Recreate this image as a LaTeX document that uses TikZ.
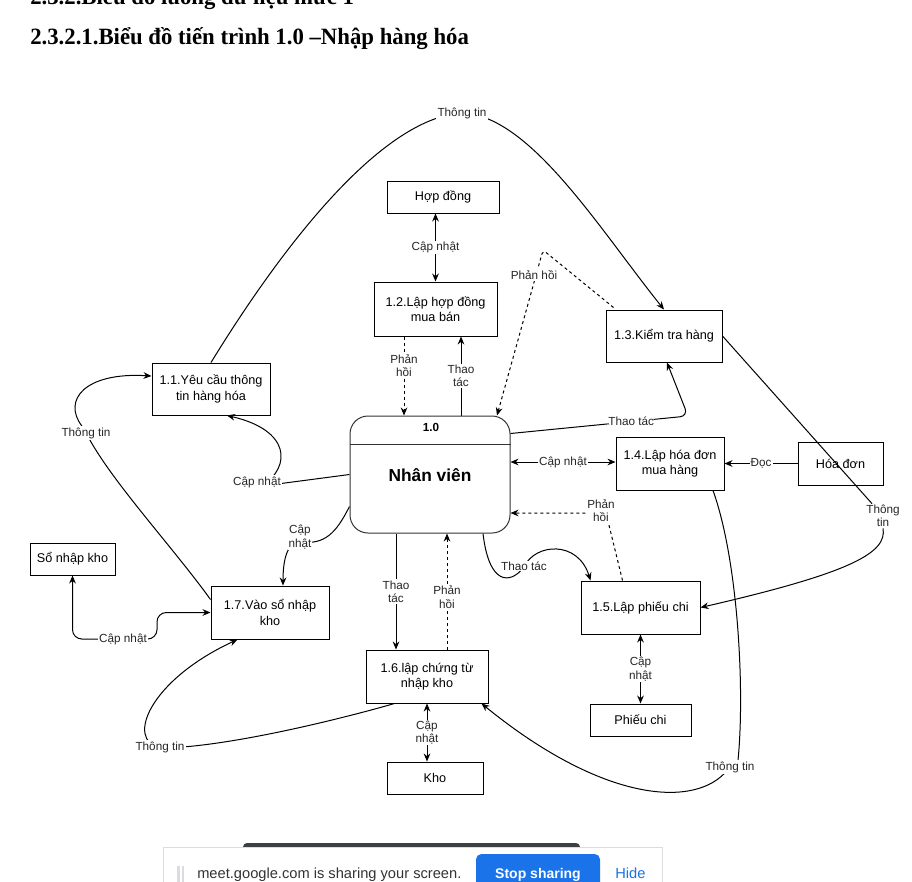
\documentclass[tikz,border=0pt]{standalone}
\usepackage{fontspec}
\setmainfont{Liberation Sans}
\newfontfamily\titleserif{Liberation Serif}
\usetikzlibrary{arrows.meta,calc,backgrounds}
\definecolor{gblue}{HTML}{1A73E8}
\definecolor{gdark}{HTML}{3C4043}
\definecolor{ggrey}{HTML}{DADCE0}
\begin{document}
\begin{tikzpicture}[x=0.75pt,y=-0.75pt,
  >={Stealth[length=6pt,width=5pt]},
  box/.style={draw,line width=0.75pt,align=center,inner sep=0pt,font=\fontsize{9.5}{11.5}\selectfont},
  sz/.style 2 args={minimum width=#1*0.75pt,minimum height=#2*0.75pt},
  lbl/.style={fill=white,inner sep=0.8pt,align=center,text=black!85,font=\fontsize{8.8}{10}\selectfont},
  ln/.style={line width=0.75pt},
  arr/.style={ln,->},
  arr2/.style={ln,<->},
  dsh/.style={dash pattern=on 2.25pt off 2.25pt},
  ttl/.style={anchor=base west,inner sep=0pt,font=\titleserif\bfseries\fontsize{17.5}{20}\selectfont}
]
\useasboundingbox (0,0) rectangle (912,881);
\begin{scope}
\clip (0,0) rectangle (912,881);
% headings
\node[ttl] (h0) at (30,5) {\scalebox{0.975}[1]{2.3.2.Biểu đồ luồng dữ liệu mức 1}};
\node[ttl] (h1) at (30,45) {\scalebox{0.975}[1]{2.3.2.1.Biểu đồ tiến trình 1.0 –Nhập hàng hóa}};

% process and store boxes
\node[box,sz={112}{32}] (hop) at (443,197) {Hợp đồng};
\node[box,sz={123}{54}] (n12) at (435.5,309) {1.2.Lập hợp đồng\\mua bán};
\node[box,sz={116}{52}] (n13) at (664,336) {1.3.Kiểm tra hàng};
\node[box,sz={118}{52}] (n11) at (211,389) {1.1.Yêu cầu thông\\tin hàng hóa};
\node[box,sz={160}{117},rounded corners=13.5pt,draw=black!80] (n10) at (430,474.5) {};
\draw[ln,black!80] ($(n10.north west)+(0,29)$) coordinate (dv1) -- ($(n10.north east)+(0,29)$) coordinate (dv2);
\node[font=\bfseries\fontsize{8.8}{10}\selectfont] (t10) at (431,427.5) {1.0};
\node[font=\bfseries\fontsize{13}{15}\selectfont] (t10b) at (430,475) {Nhân viên};
\node[box,sz={108}{53}] (n14) at (670,463.5) {1.4.Lập hóa đơn\\mua hàng};
\node[box,sz={85}{43}] (hd) at (840.5,463.5) {Hóa đơn};
\node[box,sz={85}{32}] (so) at (72.5,559) {Sổ nhập kho};
\node[box,sz={118}{53}] (n17) at (270,612.5) {1.7.Vào sổ nhập\\kho};
\node[box,sz={119}{53}] (n15) at (640.5,607.5) {1.5.Lập phiếu chi};
\node[box,sz={122}{53}] (n16) at (427,676.5) {1.6.lập chứng từ\\nhập kho};
\node[box,sz={101}{32}] (pc) at (640.5,720) {Phiếu chi};
\node[box,sz={96}{32}] (kho) at (435,778) {Kho};

% free-standing labels
\node[lbl] (l10) at (462,113) {Thông tin};
\node[lbl] (lph) at (534,275) {Phản hồi};
\node[lbl] (lph2) at (601,511) {Phản\\hồi};
\node[lbl] (l3) at (883,516) {Thông\\tin};
\node[lbl] (l4) at (730,767) {Thông tin};
\node[lbl] (lt5) at (524,566) {Thao tác};
\node[lbl] (l6) at (257,482) {Cập nhật};
\node[lbl] (l7c) at (300,537) {Cập\\nhật};
\node[lbl] (l7) at (86,433) {Thông tin};
\node[lbl] (l8) at (123,639) {Cập nhật};
\node[lbl] (l9) at (160,747) {Thông tin};

% helper points
\coordinate (pk) at (543,250);
\coordinate (pk2) at (606,513);
\coordinate (k3) at (688,416);
\coordinate (c5) at (524,567);
\coordinate (c6) at (262,486);
\coordinate (c7) at (300,542);
\coordinate (c8) at (157,639);
\coordinate (c9) at (160,748);
\coordinate (p1) at ($(n12.south)+(-31.5,0)$);
\coordinate (p2) at ($(n10.north)+(31,0)$);
\coordinate (p6) at ($(n16.north)+(-31,0)$);
\coordinate (p7) at ($(n16.north)+(20,0)$);

\begin{scope}[on background layer]
\fill[white] (0,0) rectangle (912,881);
% Hop dong <-> 1.2
\draw[arr2] (n12.north) -- (n12.north |- hop.south) node[lbl,midway]{Cập nhật};
% 1.2 -> 1.0 (dashed) and 1.0 -> 1.2
\draw[arr,dsh] (p1) -- (p1 |- n10.north) node[lbl,pos=0.37]{Phản\\hồi};
\draw[arr] (p2) -- (p2 |- n12.south) node[lbl,pos=0.5]{Thao\\tác};
% 1.1 -> 1.3 Thong tin
\draw[arr] (n11.north) .. controls (280,250) and (380,118) .. (l10.center)
  .. controls (530,115) and (600,230) .. (n13.north);
% 1.3 -> 1.0 dashed
\draw[arr,dsh,rounded corners=3pt] ($(n13.north west)+(8,-2)$) -- (pk) -- ($(n10.north)+(67,0)$);
% 1.0 -> 1.3 Thao tac
\draw[arr,rounded corners=6pt] ($(n10.east)+(0,-41)$) -- node[lbl,pos=0.68]{Thao tác} (k3) -- ($(n13.south)+(3,0)$);
% 1.0 <-> 1.4
\draw[arr2] ($(n14.west)+(0,-1.5)$) coordinate (p3) -- (p3 -| n10.east) node[lbl,midway]{Cập nhật};
% Hoa don -> 1.4
\draw[arr] (hd.west) -- (hd.west -| n14.east) node[lbl,midway]{Đọc};
% 1.5 -> 1.0 dashed
\draw[arr,dsh] ($(n15.north)+(-18,0)$) -- (pk2) -- (pk2 -| n10.east);
% 1.3 -> 1.5 Thong tin
\draw[ln] (n13.east) -- (l3);
\draw[arr] (l3.south) .. controls (887,552) and (855,572) .. (n15.east);
% 1.4 -> 1.6 Thong tin
\draw[ln] ($(n14.south)+(43,0)$) .. controls (738,560) and (745,690) .. ($(l4.north)+(8,0)$);
\draw[arr] ($(l4.south)+(-6,0)$) .. controls (690,808) and (600,800) .. ($(n16.south east)+(-7,0)$);
% 1.0 -> 1.5 Thao tac
\draw[arr] ($(n10.south)+(53,0)$) .. controls (489,585) and (510,585) .. (c5)
  .. controls (535,543) and (578,540) .. ($(n15.north west)+(10,0)$);
% 1.0 -> 1.6 and 1.6 -> 1.0
\draw[arr] (p6 |- n10.south) -- (p6) node[lbl,pos=0.5]{Thao\\tác};
\draw[arr,dsh] (p7) -- (p7 |- n10.south) node[lbl,pos=0.45]{Phản\\hồi};
% 1.6 <-> Kho, 1.5 <-> Phieu chi
\draw[arr2] (n16.south) -- (n16.south |- kho.north) node[lbl,midway]{Cập\\nhật};
\draw[arr2] (n15.south) -- (n15.south |- pc.north) node[lbl,midway]{Cập\\nhật};
% 1.0 -> 1.1
\draw[arr] (n10.west) -- (c6) .. controls (292,466) and (290,430) .. ($(n11.south)+(16,0)$);
% 1.0 -> 1.7
\draw[arr] ($(n10.west)+(0,32)$) .. controls (336,533) and (325,545) .. (c7)
  .. controls (287,542) and (283,560) .. ($(n17.north)+(13,0)$);
% 1.7 -> 1.1
\draw[ln] ($(n17.west)+(0,-13)$) .. controls (175,550) and (115,485) .. (l7);
\draw[arr] ($(l7.north)+(-4,0)$) .. controls (62,400) and (85,372) .. ($(n11.west)+(0,-13)$);
% 1.7 <-> So nhap kho
\draw[arr2,rounded corners=7pt] (so.south) |- (c8) |- (n17.west);
% 1.6 -> 1.7
\draw[arr] ($(n16.south west)+(29,0)$) .. controls (330,722) and (220,748) .. (c9)
  .. controls (125,740) and (150,680) .. ($(n17.south west)+(27,0)$);
\end{scope}

% screen sharing bar
\fill[gdark,rounded corners=3pt] (243,843) rectangle (580,856);
\filldraw[fill=white,draw=ggrey,line width=0.75pt] (163,847) rectangle (662,890);
\fill[ggrey] (177,866) rectangle (179.5,885);
\fill[ggrey] (181.5,866) rectangle (184,885);
\node[anchor=base west,inner sep=0pt,text=black!80,font=\fontsize{11}{13}\selectfont] (mt) at (197,878) {meet.google.com is sharing your screen.};
\fill[gblue,rounded corners=4pt] (476,854) rectangle (600,892);
\node[anchor=base,inner sep=0pt,text=white,font=\bfseries\fontsize{10.5}{12}\selectfont] (stop) at (538,878) {Stop sharing};
\node[anchor=base west,inner sep=0pt,text=gblue,font=\fontsize{11}{13}\selectfont] (hide) at (615,878) {Hide};
\end{scope}
\end{tikzpicture}
\end{document}
